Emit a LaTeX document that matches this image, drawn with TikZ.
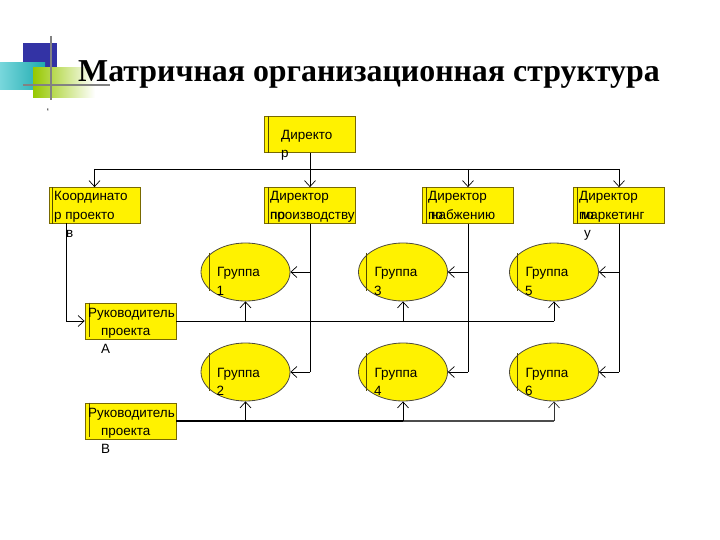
\documentclass[tikz,border=0pt]{standalone}
\usepackage{fontspec}
\setmainfont{Liberation Sans}
\newfontfamily\titlefont{Liberation Serif}
\usetikzlibrary{arrows.meta,shapes.geometric}
\definecolor{boxedge}{RGB}{120,105,0}
\definecolor{logoblue}{RGB}{51,51,165}
\definecolor{logoteal}{RGB}{30,170,175}
\definecolor{logocyan}{RGB}{120,215,220}
\definecolor{logogreen}{RGB}{150,200,0}
\definecolor{logogray}{RGB}{130,130,130}
\tikzset{
  orgbox/.style={rectangle,fill=yellow,draw=boxedge,line width=0.8bp,minimum width=91bp,minimum height=36bp,inner sep=0pt},
  grp/.style={ellipse,fill=yellow,draw=black!80!yellow,line width=0.8bp,minimum width=89bp,minimum height=58bp,inner sep=0pt},
  txt/.style={anchor=base west,inner sep=0pt,font=\fontsize{13.5}{18}\selectfont},
  conn/.style={draw=black,line width=0.8bp},
  arr/.style={conn,-{Straight Barb[length=6bp,width=11bp,line width=0.7bp]}},
  inner/.style={draw=boxedge!70!black,line width=0.8bp}
}
\begin{document}
\begin{tikzpicture}[x=1bp,y=-1bp]
\useasboundingbox (0,0) rectangle (720,540);
% logo
\fill[logoblue] (23,43) rectangle (57,80);
\shade[left color=logocyan,right color=logoteal] (0,63) rectangle (45,90);
\shade[left color=logogreen,right color=white] (33,68) rectangle (95,98);
\draw[logogray,line width=2bp] (51,36) -- (51,100);
\draw[logogray,line width=2bp] (23,85) -- (110,85);
\node[anchor=base west,inner sep=0pt,font=\titlefont\bfseries\fontsize{32}{36}\selectfont] (title) at (78,82) {Матричная организационная структура};
\node[anchor=base,inner sep=0pt,font=\fontsize{10}{10}\selectfont] (dot) at (48,116) {`};
% boxes
\node[orgbox] (dir) at (310,134.5) {};
\node[orgbox] (coord) at (94.5,205.5) {};
\node[orgbox] (dprod) at (310,205.5) {};
\node[orgbox] (dsup) at (468,205.5) {};
\node[orgbox] (dmark) at (619,205.5) {};
\node[orgbox] (pa) at (130.5,321) {};
\node[orgbox] (pb) at (130.5,421) {};
\foreach \b in {dir,coord,dprod,dsup,dmark}{
  \draw[inner] ([xshift=4bp]\b.north west) -- ([xshift=4bp]\b.south west);
}
\foreach \b in {pa,pb}{
  \draw[inner] ([xshift=5bp]\b.north west) -- ([xshift=5bp,yshift=2bp]\b.south west);
}
% groups
\node[grp] (g1) at (245.5,272) {};
\node[grp] (g3) at (403,272) {};
\node[grp] (g5) at (554,272) {};
\node[grp] (g2) at (245.5,372) {};
\node[grp] (g4) at (403,372) {};
\node[grp] (g6) at (554,372) {};
\foreach \g in {g1,g2,g3,g4,g5,g6}{
  \draw[inner] ([xshift=-36.5bp,yshift=19bp]\g.center) -- ([xshift=-36.5bp,yshift=-19bp]\g.center);
}
% texts
\node[txt] at (281,140) {Директо};
\node[txt] at (281,158) {р};
\node[txt] at (54,201) {Координато};
\node[txt] at (54,220) {р\ проекто};
\node[txt] at (66,238) {в};
\node[txt] at (270,201) {Директор};
\node[txt] at (270,220) {\rlap{по}производству};
\node[txt] at (428,201) {Директор};
\node[txt] at (428,220) {\rlap{по}\kern3bp набжению};
\node[txt] at (579,201) {Директор};
\node[txt] at (579,220) {\rlap{по}\kern2bp маркетинг};
\node[txt] at (584,238) {у};
\node[txt] at (88,317) {Руководитель};
\node[txt] at (101,335) {проекта};
\node[txt] at (101,353) {A};
\node[txt] at (88,417) {Руководитель};
\node[txt] at (101,435) {проекта};
\node[txt] at (101,453) {B};
\foreach \g/\n in {g1/1,g2/2,g3/3,g4/4,g5/5,g6/6}{
  \node[txt] at ([xshift=-28.5bp,yshift=-5bp]\g.center) {Группа};
  \node[txt] at ([xshift=-29bp,yshift=-23bp]\g.center) {\n};
}
% connectors from director
\coordinate (busl) at (94.5,169);
\coordinate (busr) at (619,169);
\draw[conn] (dir.south) -- (310,169);
\draw[conn] (busl) -- (busr);
\draw[arr] (busl) -- (coord.north);
\draw[arr] (310,169) -- (dprod.north);
\draw[arr] (468,169) -- (dsup.north);
\draw[arr] (busr) -- (dmark.north);
% functional directors to groups
\draw[conn] (dprod.south) -- (310,372);
\draw[arr] (310,272) -- (g1.east);
\draw[arr] (310,372) -- (g2.east);
\draw[conn] (dsup.south) -- (468,372);
\draw[arr] (468,272) -- (g3.east);
\draw[arr] (468,372) -- (g4.east);
\draw[conn] (dmark.south) -- (619,372);
\draw[arr] (619,272) -- (g5.east);
\draw[arr] (619,372) -- (g6.east);
% coordinator to project A
\coordinate (cdown) at (66,223.5);
\draw[arr] (cdown) -- (66,321) -- (pa.west);
% project A to groups 1,3,5
\draw[conn] (pa.east) -- (554,321);
\draw[arr] (245.5,321) -- (g1.south);
\draw[arr] (403,321) -- (g3.south);
\draw[arr] (554,321) -- (g5.south);
% project B to groups 2,4,6
\draw[conn,line width=1.6bp] (pb.east) -- (403,421);
\draw[conn,line width=1.4bp,draw=black!70] (403,421) -- (554,421);
\draw[arr] (245.5,421) -- (g2.south);
\draw[arr] (403,421) -- (g4.south);
\draw[arr,draw=black!80] (554,421) -- (g6.south);
\end{tikzpicture}
\end{document}
